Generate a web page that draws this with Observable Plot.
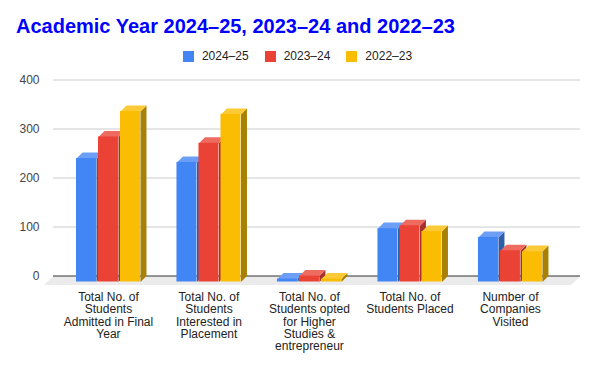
<!DOCTYPE html>
<html>
<head>
<meta charset="utf-8">
<script src="https://cdn.jsdelivr.net/npm/d3@7"></script>
<script src="https://cdn.jsdelivr.net/npm/@observablehq/plot@0.6"></script>
<style>
  html, body { margin: 0; padding: 0; background: #fff; }
  body { width: 595px; height: 368px; overflow: hidden; font-family: "Liberation Sans", Arial, sans-serif; }
  #head { position: relative; width: 595px; height: 64px; }
  #title { position: absolute; left: 16px; top: 16px; font-size: 20px; line-height: 20px; font-weight: bold; color: #0000ff; white-space: nowrap; }
  #legend { position: absolute; left: 0; top: 50px; width: 595px; height: 12px; display: flex; align-items: center; justify-content: center; font-size: 12px; line-height: 12px; color: #222; }
  .item { display: flex; align-items: center; margin: 0 8px; }
  .sw { width: 11px; height: 11px; margin-right: 8px; }
  svg { display: block; }
</style>
</head>
<body>
<div id="head">
  <div id="title">Academic Year 2024–25, 2023–24 and 2022–23</div>
  <div id="legend"></div>
</div>
<div id="chart"></div>
<script>
// ---- data ----
const categories = [
  "Total No. of\nStudents\nAdmitted in Final\nYear",
  "Total No. of\nStudents\nInterested in\nPlacement",
  "Total No. of\nStudents opted\nfor Higher\nStudies &\nentrepreneur",
  "Total No. of\nStudents Placed",
  "Number of\nCompanies\nVisited"
];
const seriesNames = ["2024–25", "2023–24", "2022–23"];
const values2024_25 = [252, 244, 6, 109, 91];
const values2023_24 = [296, 283, 12, 115, 64];
const values2022_23 = [348, 342, 6, 103, 62];
const yTicks = [0, 100, 200, 300, 400];

const frontColors = ["#4285F4", "#EA4335", "#FBBC04"];
const topColors   = ["#6d9ef6", "#ee6b60", "#fcca36"];
const sideColors  = ["#2f5ea9", "#a5312a", "#a88003"];

const allValues = [values2024_25, values2023_24, values2022_23];

// legend
const legend = document.getElementById("legend");
seriesNames.forEach((n, k) => {
  const it = document.createElement("div");
  it.className = "item";
  it.innerHTML = `<span class="sw" style="background:${frontColors[k]}"></span><span>${n}</span>`;
  legend.appendChild(it);
});

// ---- geometry (in scale units) ----
const W = 595, H = 304;
const mL = 53, mR = 15;
const xDomain = [-0.547, 4.697];
const pxPerX = (W - mL - mR) / (xDomain[1] - xDomain[0]);
const yRange = [211.5, 15.5];
const pxPerY = (yRange[0] - yRange[1]) / 400;
const barW = 20 / pxPerX, step = 22 / pxPerX;
const dX = 6 / pxPerX, dY = 6 / pxPerY;
const fX = 9.5 / pxPerX, fY = 9 / pxPerY;

const polys = [];
const fronts = [];
categories.forEach((c, i) => {
  allValues.forEach((vals, s) => {
    const v = vals[i];
    const x1 = i + (s - 1) * step - barW / 2, x2 = x1 + barW;
    const id = `${i}-${s}`;
    [[x2, v - dY], [x2 + dX, v], [x2 + dX, 0], [x2, -dY]].forEach(([x, y]) => polys.push({id: id + "s", x, y, c: sideColors[s]}));
    [[x1, v - dY], [x2, v - dY], [x2 + dX, v], [x1 + dX, v]].forEach(([x, y]) => polys.push({id: id + "t", x, y, c: topColors[s]}));
    fronts.push({x1, x2, y1: -dY, y2: v - dY, c: frontColors[s]});
  });
});

const floor = [[xDomain[0], 0], [xDomain[1], 0], [xDomain[1] - fX, -fY], [xDomain[0] - fX, -fY]].map(([x, y]) => ({x, y}));

const chart = Plot.plot({
  width: W, height: H,
  marginLeft: mL, marginRight: mR, marginTop: 10, marginBottom: 78,
  style: {fontFamily: "'Liberation Sans', Arial, sans-serif", fontSize: "12px", color: "#222", background: "#fff"},
  x: {domain: xDomain},
  y: {domain: [0, 400], range: yRange},
  color: {type: "identity"},
  marks: [
    Plot.ruleY(yTicks.filter(d => d > 0), {stroke: "#cccccc", strokeWidth: 1}),
    Plot.line(floor, {x: "x", y: "y", fill: "#ebebeb", stroke: "none", curve: "linear-closed"}),
    Plot.ruleY([0], {stroke: "#333", strokeWidth: 1}),
    Plot.line(polys, {x: "x", y: "y", z: "id", fill: "c", stroke: "none", curve: "linear-closed"}),
    Plot.rect(fronts, {x1: "x1", x2: "x2", y1: "y1", y2: "y2", fill: "c"}),
    Plot.axisY({ticks: yTicks, tickSize: 0, tickPadding: 14, label: null, color: "#444", fontSize: 12}),
    Plot.axisX({ticks: [0, 1, 2, 3, 4], tickFormat: i => categories[i], tickSize: 0, tickPadding: 2, label: null, lineHeight: 1.02, color: "#222", fontSize: 12})
  ]
});
document.getElementById("chart").appendChild(chart);
</script>
</body>
</html>
